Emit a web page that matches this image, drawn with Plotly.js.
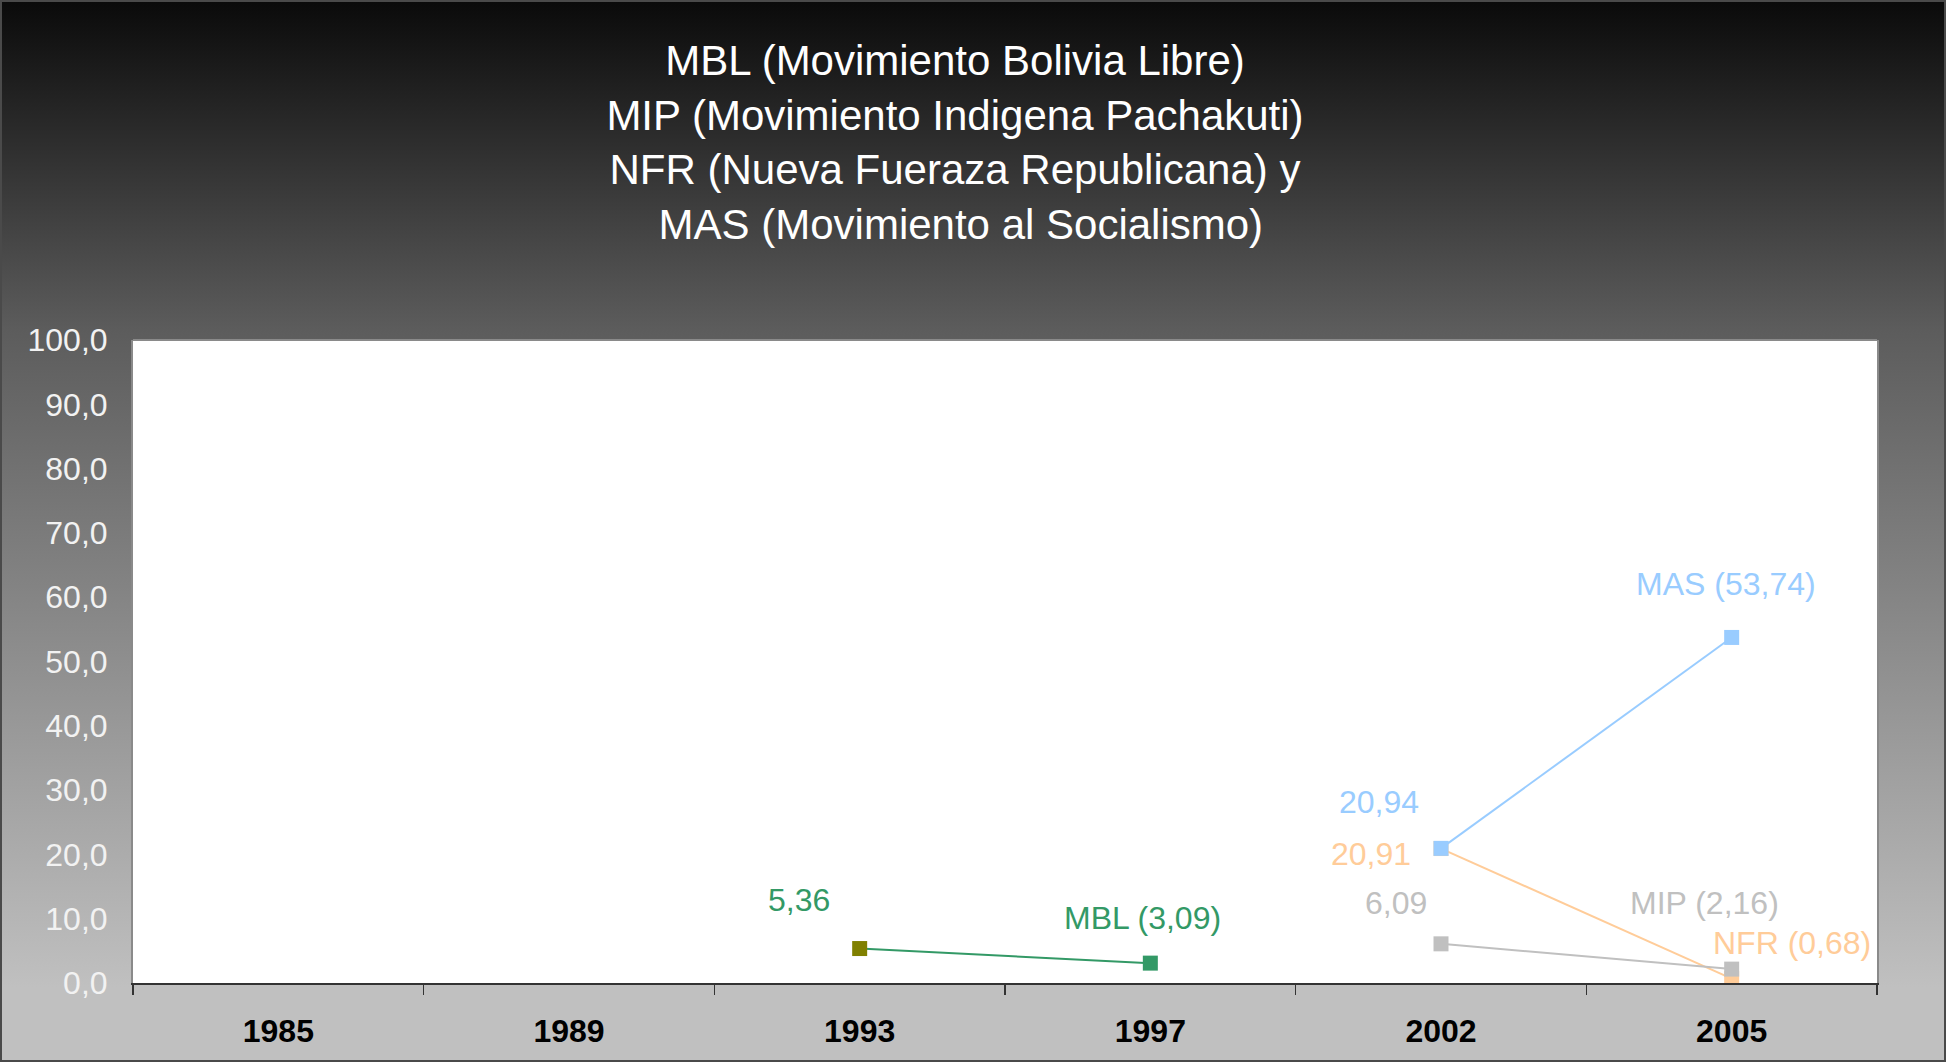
<!DOCTYPE html>
<html>
<head>
<meta charset="utf-8">
<script src="https://cdn.plot.ly/plotly-3.0.1.min.js"></script>
<style>
  html, body { margin: 0; padding: 0; }
  #wrap { position: relative; width: 1946px; height: 1062px; }
  #chart { width: 1946px; height: 1062px;
    background: linear-gradient(to bottom, #0a0a0a 0%, #5c5c5c 31%, #c0c0c0 93%, #c0c0c0 100%); }
  #frame { position: absolute; left: 0; top: 0; width: 1946px; height: 1062px; box-sizing: border-box;
    border: 2px solid #4a4a4a; pointer-events: none; }
</style>
</head>
<body>
<div id="wrap"><div id="chart"></div><div id="frame"></div></div>
<script>
// ---- data ----
const years = ['1985', '1989', '1993', '1997', '2002', '2005'];

const mblName = 'MBL';
const mblYears = ['1993', '1997'];
const mblValues = [5.36, 3.09];

const nfrName = 'NFR';
const nfrYears = ['2002', '2005'];
const nfrValues = [20.91, 0.68];

const mipName = 'MIP';
const mipYears = ['2002', '2005'];
const mipValues = [6.09, 2.16];

const masName = 'MAS';
const masYears = ['2002', '2005'];
const masValues = [20.94, 53.74];

const titleLines = [
  'MBL (Movimiento Bolivia Libre)',
  'MIP (Movimiento Indigena Pachakuti)',
  'NFR (Nueva Fueraza Republicana) y',
  ' MAS (Movimiento al Socialismo)'
];
const yTicks = [0, 10, 20, 30, 40, 50, 60, 70, 80, 90, 100];

// ---- styles ----
const FONT = '"Liberation Sans", Arial, sans-serif';
const series = [
  { name: mblName, x: mblYears, y: mblValues, color: '#339966', markerColors: ['#808000', '#339966'],
    shifts: [[-61, 49], [-8, 45]] },
  { name: nfrName, x: nfrYears, y: nfrValues, color: '#ffcc99', markerColors: null,
    shifts: [[-70, -5], [60, 36]] },
  { name: mipName, x: mipYears, y: mipValues, color: '#c0c0c0', markerColors: null,
    shifts: [[-45, 41], [-27, 66]] },
  { name: masName, x: masYears, y: masValues, color: '#99ccff', markerColors: null,
    shifts: [[-62, 46], [-6, 53]] }
];

const fmt = v => v.toFixed(2).replace('.', ',');

const traces = [{
  x: years, y: years.map(() => null), type: 'scatter', mode: 'markers',
  showlegend: false, hoverinfo: 'skip'
}];
const annotations = [];

series.forEach(s => {
  traces.push({
    x: s.x, y: s.y, type: 'scatter', mode: 'lines+markers', name: s.name,
    line: { color: s.color, width: 2 },
    marker: { symbol: 'square', size: 15, color: s.markerColors || s.color, line: { width: 0 } },
    showlegend: false
  });
  s.x.forEach((xv, i) => {
    const last = i === s.x.length - 1;
    annotations.push({
      x: years.indexOf(xv), y: s.y[i], xref: 'x', yref: 'y', showarrow: false,
      text: last ? s.name + ' (' + fmt(s.y[i]) + ')' : fmt(s.y[i]),
      font: { family: FONT, size: 32, color: s.color },
      xshift: s.shifts[i][0], yshift: s.shifts[i][1]
    });
  });
});

const layout = {
  width: 1946, height: 1062,
  margin: { l: 133, r: 69, t: 340, b: 79, pad: 0 },
  paper_bgcolor: 'rgba(0,0,0,0)',
  plot_bgcolor: '#ffffff',
  separators: ',.',
  showlegend: false,
  font: { family: FONT },
  title: {
    text: titleLines.join('<br>'),
    font: { family: FONT, size: 42, color: '#ffffff' },
    x: 955 / 1946, xref: 'container', xanchor: 'center',
    y: 1 - 75 / 1062, yref: 'container', yanchor: 'top'
  },
  xaxis: {
    type: 'category', categoryorder: 'array', categoryarray: years,
    range: [-0.5, years.length - 0.5],
    tickson: 'boundaries', ticks: 'outside', ticklen: 10, tickwidth: 1.5, tickcolor: '#333333',
    showline: true, linecolor: '#333333', linewidth: 2,
    showgrid: false, zeroline: false,
    tickfont: { family: FONT, size: 32, color: '#000000', weight: 'bold' },
    ticklabelstandoff: 19
  },
  yaxis: {
    range: [0, 100], tickvals: yTicks, tickformat: '.1f',
    showgrid: false, zeroline: false,
    showline: true, linecolor: '#8a8a8a', linewidth: 2, mirror: true,
    ticks: '', ticklabelstandoff: 17,
    tickfont: { family: FONT, size: 32, color: '#f2f2f2' }
  },
  shapes: [{
    type: 'line', xref: 'paper', yref: 'paper', x0: 0, x1: 1, y0: 1, y1: 1,
    line: { color: '#8a8a8a', width: 2 }
  }],
  annotations: annotations
};

Plotly.newPlot('chart', traces, layout, { displayModeBar: false, staticPlot: true });
</script>
</body>
</html>
